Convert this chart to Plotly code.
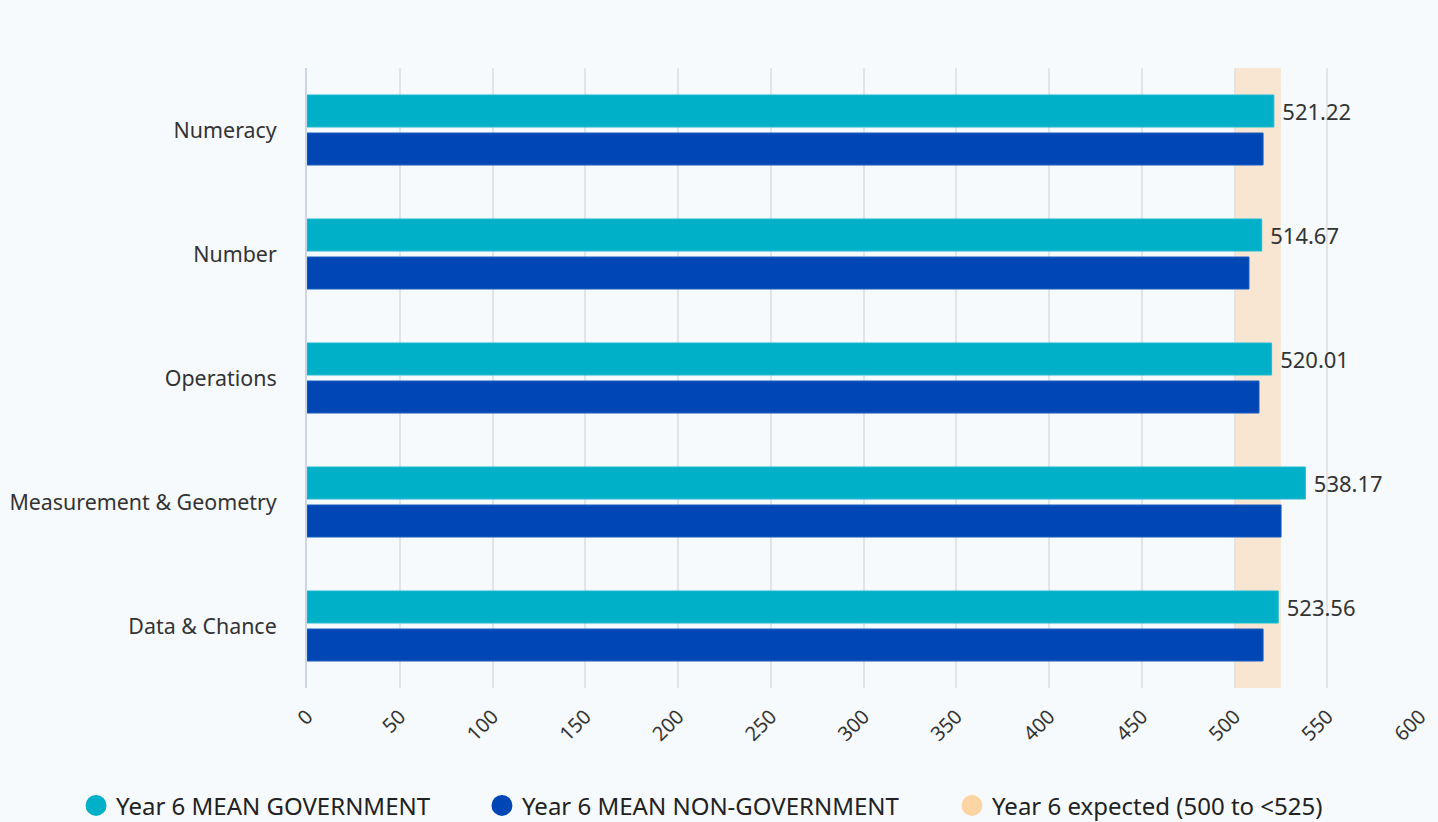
import plotly.graph_objects as go

categories = ["Numeracy", "Number", "Operations", "Measurement & Geometry", "Data & Chance"]
gov_values = [521.22, 514.67, 520.01, 538.17, 523.56]
nongov_values = [515.4, 507.8, 513.2, 525.1, 515.4]
expected_range = [500, 525]
x_ticks = list(range(0, 601, 50))

series_names = ["Year 6 MEAN GOVERNMENT", "Year 6 MEAN NON-GOVERNMENT", "Year 6 expected (500 to <525)"]
GOV_C = "#00b0c9"
NONGOV_C = "#0047b5"
BAND_C = "#f8e6d3"
BAND_LEG_C = "#fdd4a3"
TXT = "#333333"
FONT = "Noto Sans"

fig = go.Figure()
fig.add_trace(go.Bar(
    y=categories, x=gov_values, orientation="h", name=series_names[0],
    marker=dict(color=GOV_C, line=dict(color="#1cbad0", width=1)),
    text=["\u2005" + f"{v:.2f}" for v in gov_values], textposition="outside",
    textfont=dict(size=22, color=TXT, family=FONT), cliponaxis=False,
    showlegend=False, hoverinfo="x+y",
))
fig.add_trace(go.Bar(
    y=categories, x=nongov_values, orientation="h", name=series_names[1],
    marker=dict(color=NONGOV_C, line=dict(color="#1a5cc0", width=1)),
    showlegend=False, hoverinfo="x+y",
))

# legend entries (circle symbols), one legend box each so they can be placed like the reference
legend_ids = ["legend", "legend2", "legend3"]
for nm, c, lg in zip(series_names, [GOV_C, NONGOV_C, BAND_LEG_C], legend_ids):
    fig.add_trace(go.Scatter(
        x=[None], y=[None], mode="markers", name=nm, legend=lg,
        marker=dict(symbol="circle", size=16, color=c, line=dict(color=c, width=5)),
        showlegend=True,
    ))

fig.add_shape(type="rect", xref="x", yref="paper",
              x0=expected_range[0], x1=expected_range[1], y0=0, y1=1,
              fillcolor=BAND_C, line=dict(width=0), layer="below")

leg_common = dict(orientation="h", y=-0.19, yanchor="middle", xanchor="left",
                  font=dict(size=24, color="#222222", family=FONT),
                  itemsizing="trace", bgcolor="rgba(0,0,0,0)")

fig.update_layout(
    width=1438, height=822,
    paper_bgcolor="#f6fafd", plot_bgcolor="#f6fafd",
    margin=dict(l=307, r=18, t=68, b=134, autoexpand=False),
    barmode="group", bargap=0.387, bargroupgap=0.158,
    font=dict(family=FONT, color=TXT, size=21),
    legend=dict(x=-0.2075, **leg_common),
    legend2=dict(x=0.1572, **leg_common),
    legend3=dict(x=0.5795, **leg_common),
    xaxis=dict(range=[0, 600], tickvals=x_ticks, tickangle=-45, showgrid=True,
               gridcolor="#e4e4e4", gridwidth=2, zeroline=False,
               ticks="outside", ticklen=8, tickcolor="rgba(0,0,0,0)",
               tickfont=dict(size=20, color=TXT), fixedrange=True),
    yaxis=dict(categoryorder="array", categoryarray=categories, autorange="reversed",
               showline=True, linecolor="#ccd6eb", linewidth=2, showgrid=False,
               ticks="", ticklabelstandoff=24,
               tickfont=dict(size=21.4, color=TXT)),
)

fig.write_html("out.html", config={"displayModeBar": False},
               post_script="document.body.style.margin='0';document.body.style.overflow='hidden';")
